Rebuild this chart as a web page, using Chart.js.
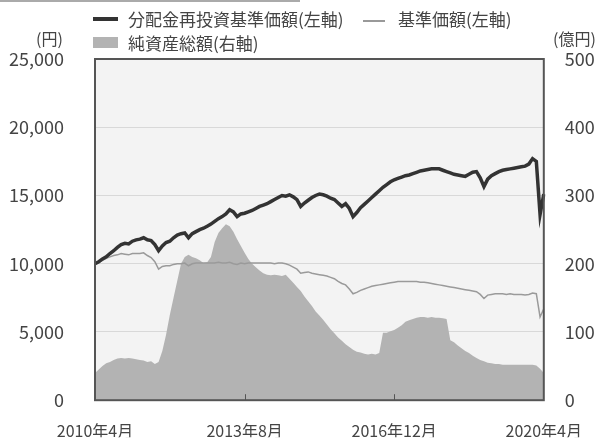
<!DOCTYPE html>
<html>
<head>
<meta charset="utf-8">
<script src="https://cdn.jsdelivr.net/npm/chart.js@4"></script>
<style>
  body { margin: 0; background: #fff; font-family: "Noto Sans CJK JP", sans-serif; color: #444; }
  #wrap { position: relative; width: 603px; height: 442px; overflow: hidden; }
  #chart { position: absolute; left: 0; top: 0; }
  .t { position: absolute; font-size: 17px; line-height: 1; white-space: nowrap; }
  .u { position: absolute; font-size: 16px; line-height: 1; white-space: nowrap; }
  .sw { position: absolute; }
</style>
</head>
<body>
<div id="wrap">
  <canvas id="chart" width="603" height="442"></canvas>
  <div class="sw" style="left:0;top:0;width:300px;height:2px;background:#aaa"></div>
  <div class="sw" style="left:93px;top:17px;width:25px;height:4px;background:#333"></div>
  <div class="t" style="left:128px;top:10px">分配金再投資基準価額(左軸)</div>
  <div class="sw" style="left:363px;top:20px;width:22px;height:1.5px;background:#999"></div>
  <div class="t" style="left:398px;top:10px">基準価額(左軸)</div>
  <div class="sw" style="left:93px;top:37px;width:25px;height:11px;background:#b3b3b3"></div>
  <div class="t" style="left:128px;top:34px">純資産総額(右軸)</div>
  <div class="u" style="left:36px;top:30px">(円)</div>
  <div class="u" style="left:553px;top:30px">(億円)</div>
</div>
<script>
// monthly, 2010年4月 .. 2020年4月
const tickLabels = ["2010年4月", "2013年8月", "2016年12月", "2020年4月"];

// 分配金再投資基準価額 (円)
const reinvested = [
  10000, 10150, 10350, 10500, 10750, 10950, 11200, 11400, 11500, 11450,
  11650, 11750, 11800, 11900, 11750, 11700, 11400, 10950, 11300, 11550,
  11650, 11900, 12100, 12200, 12250, 11900, 12200, 12350, 12500, 12600,
  12750, 12900, 13100, 13300, 13450, 13650, 13950, 13800, 13450, 13650,
  13700, 13800, 13900, 14050, 14200, 14300, 14400, 14550, 14700, 14850,
  15000, 14950, 15050, 14900, 14700, 14200, 14450, 14650, 14850, 15000,
  15100, 15050, 14950, 14800, 14700, 14450, 14200, 14400, 14050, 13450,
  13750, 14100, 14350, 14600, 14850, 15100, 15350, 15600, 15800, 16000,
  16150, 16250, 16350, 16450, 16500, 16600, 16700, 16800, 16850, 16900,
  16950, 16950, 16950, 16850, 16750, 16650, 16550, 16500, 16450, 16400,
  16550, 16700, 16750, 16300, 15650, 16200, 16450, 16600, 16750, 16850,
  16900, 16950, 17000, 17050, 17100, 17150, 17300, 17700, 17500, 13600,
  15100
];

// 基準価額 (円)
const nav = [
  10000, 10100, 10250, 10400, 10500, 10600, 10650, 10750, 10700, 10650,
  10750, 10750, 10750, 10800, 10600, 10450, 10150, 9600, 9800, 9850,
  9850, 9950, 10000, 10000, 10050, 9850, 10000, 10050, 10050, 10050,
  10050, 10050, 10050, 10100, 10050, 10050, 10100, 10000, 9950, 10050,
  10000, 10050, 10050, 10050, 10050, 10050, 10050, 10050, 10000, 10050,
  10050, 10000, 9900, 9750, 9600, 9300, 9350, 9400, 9300, 9250,
  9200, 9150, 9100, 9000, 8900, 8700, 8550, 8450, 8150, 7800,
  7900, 8050, 8150, 8250, 8350, 8400, 8450, 8500, 8550, 8600,
  8650, 8700, 8700, 8700, 8700, 8700, 8700, 8650, 8650, 8600,
  8550, 8500, 8450, 8400, 8350, 8300, 8250, 8200, 8150, 8100,
  8050, 8000, 7950, 7750, 7450, 7700, 7750, 7800, 7800, 7800,
  7750, 7800, 7750, 7750, 7750, 7700, 7750, 7850, 7800, 6100,
  6700
];

// 純資産総額 (億円)
const netAssets = [
  40, 45, 50, 54, 56, 59, 61, 62, 61, 62,
  61, 60, 59, 58, 56, 57, 53, 56, 72, 96,
  125, 150, 175, 200, 210, 213, 210, 208, 205, 201,
  202, 210, 232, 245, 252, 258, 255, 247, 236, 226,
  216, 207, 200, 195, 190, 186, 184, 183, 184, 183,
  182, 184, 178, 172, 166, 160, 152, 145, 138, 130,
  124, 118, 111, 104, 98, 92, 87, 82, 78, 74,
  71, 70, 68, 67, 68, 67, 69, 99, 99, 101,
  103, 106, 110, 115, 117, 119, 121, 122, 122, 121,
  122, 121, 121, 120, 119, 88, 85, 80, 76, 72,
  69, 65, 62, 59, 57, 55, 54, 53, 53, 52,
  52, 52, 52, 52, 52, 52, 52, 52, 51, 46,
  40
];

const months = [];
for (let i = 0; i < reinvested.length; i++) {
  const t = 3 + i;
  months.push(`${2010 + Math.floor(t / 12)}年${(t % 12) + 1}月`);
}

const FONT = "'Noto Sans CJK JP', sans-serif";
const TXT = "#444";

const plotFrame = {
  id: "plotFrame",
  beforeDraw(chart) {
    const { ctx, chartArea: a } = chart;
    ctx.save();
    ctx.fillStyle = "#f3f3f3";
    ctx.fillRect(a.left, a.top, a.right - a.left, a.bottom - a.top);
    ctx.restore();
  },
  afterDatasetsDraw(chart) {
    const { ctx, chartArea: a } = chart;
    const xs = chart.scales.x;
    ctx.save();
    ctx.strokeStyle = "#555";
    ctx.lineWidth = 1;
    tickLabels.slice(1, -1).forEach((lab) => {
      const px = Math.round(xs.getPixelForValue(months.indexOf(lab))) + 0.5;
      ctx.beginPath();
      ctx.moveTo(px, a.bottom);
      ctx.lineTo(px, a.bottom - 6);
      ctx.stroke();
    });
    ctx.lineWidth = 2;
    ctx.strokeRect(a.left, a.top, a.right - a.left, a.bottom - a.top);
    ctx.restore();
  },
};

new Chart(document.getElementById("chart"), {
  type: "line",
  data: {
    labels: months,
    datasets: [
      { label: "分配金再投資基準価額(左軸)", data: reinvested, yAxisID: "y", borderColor: "#333", borderWidth: 3.5, pointRadius: 0, order: 1 },
      { label: "基準価額(左軸)", data: nav, yAxisID: "y", borderColor: "#9a9a9a", borderWidth: 1.5, pointRadius: 0, order: 2 },
      { label: "純資産総額(右軸)", data: netAssets, yAxisID: "y1", borderWidth: 0, borderColor: "#b3b3b3", backgroundColor: "#b3b3b3", fill: "origin", pointRadius: 0, order: 3 },
    ],
  },
  options: {
    responsive: false,
    animation: false,
    layout: { padding: { top: 59, left: 0, right: 0, bottom: 0 } },
    plugins: { legend: { display: false }, tooltip: { enabled: false } },
    scales: {
      x: {
        offset: false,
        grid: { display: false, drawTicks: false },
        border: { display: false },
        ticks: {
          autoSkip: false, maxRotation: 0, minRotation: 0, padding: 21,
          color: TXT, font: { family: FONT, size: 16 },
          callback: (v, i) => (tickLabels.includes(months[i]) ? months[i] : null),
        },
        afterFit: (s) => { s.height = 37; },
      },
      y: {
        position: "left", min: 0, max: 25000,
        grid: { color: "#d8d8d8", drawTicks: false },
        border: { display: false },
        ticks: { stepSize: 5000, padding: 31, color: TXT, font: { family: FONT, size: 18 }, callback: (v) => v.toLocaleString("en-US") },
        afterFit: (s) => { s.width = 95; },
      },
      y1: {
        position: "right", min: 0, max: 500,
        grid: { display: false, drawTicks: false },
        border: { display: false },
        ticks: { stepSize: 100, padding: 21, color: TXT, font: { family: FONT, size: 18 } },
        afterFit: (s) => { s.width = 59; },
      },
    },
  },
  plugins: [plotFrame],
});
</script>
</body>
</html>
